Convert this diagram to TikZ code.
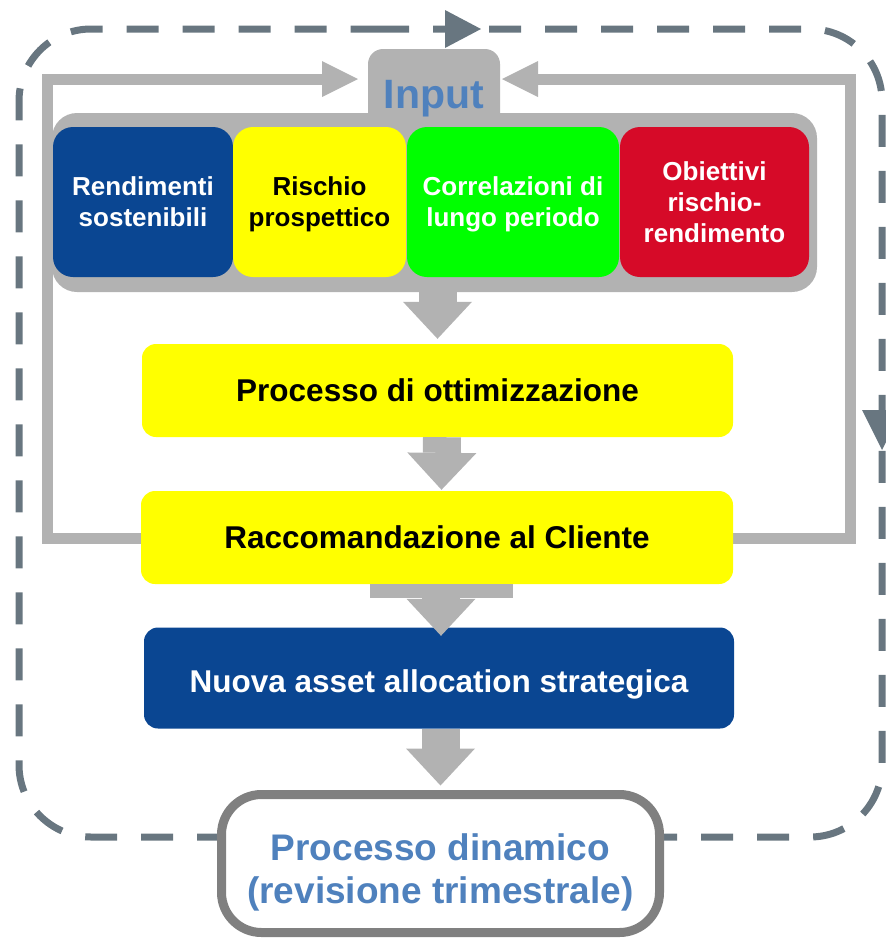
\documentclass[tikz,border=0pt]{standalone}
\usepackage{fontspec}
\setmainfont{Liberation Sans}
\usetikzlibrary{arrows.meta}
\definecolor{dashc}{RGB}{104,118,128}
\definecolor{loopc}{RGB}{178,178,178}
\definecolor{inblue}{RGB}{79,129,189}
\definecolor{dkblue}{RGB}{10,70,146}
\definecolor{ylw}{RGB}{255,255,0}
\definecolor{grn}{RGB}{0,255,0}
\definecolor{rd}{RGB}{214,10,40}
\definecolor{brd}{RGB}{128,128,128}
\begin{document}
\begin{tikzpicture}[x=1pt,y=-1pt,
  dashframe/.style={draw=dashc,line width=7pt,dash pattern=on 32pt off 24pt,rounded corners=72pt},
  dashtip/.style={fill=dashc},
  loopline/.style={draw=loopc,line width=11pt,line join=miter,-{Triangle[length=36pt 0 0,width=36pt 0 0,line width=0pt 0 0]}},
  blockarrow/.style={draw=loopc,line width=38pt,-{Triangle[length=37pt 0 0,width=69pt 0 0,line width=0pt 0 0]}},
  inbox/.style={rounded corners=20pt,minimum height=150pt,inner sep=0pt,align=center,text depth=0pt,font=\fontsize{26}{31}\selectfont\bfseries},
  mainbox/.style={rounded corners=14pt,inner sep=0pt,text depth=0pt,font=\fontsize{31.5}{38}\selectfont\bfseries},
]
\useasboundingbox (0,0) rectangle (886,938);
\clip (0,0) rectangle (886,938);

% dashed cycle frame
\draw[dashframe] (305,29) -- (882,29) -- (882,837) -- (19,837) -- (19,29) -- cycle;
\fill[dashtip] (445,10) -- (481,29) -- (445,48) -- cycle;
\fill[dashtip] (862,410) -- (902,410) -- (882,450) -- cycle;

% input tab and container
\node[fill=loopc,rounded corners=15pt,minimum width=132pt,minimum height=82pt,inner sep=0pt] (intab) at (434,90) {};
\node[fill=loopc,rounded corners=25pt,minimum width=765pt,minimum height=179pt,inner sep=0pt] (cont) at (434.5,202.5) {};
\node[anchor=base,text=inblue,inner sep=0pt,font=\fontsize{41}{48}\selectfont\bfseries] (intxt) at (434,108) {Input};
\coordinate (inL) at (358,79);
\coordinate (inR) at (502,79);

% input boxes
\node[inbox,fill=dkblue,text=white,minimum width=180pt] (rend) at (143,202) {Rendimenti\\sostenibili};
\node[inbox,fill=ylw,text=black,minimum width=173pt] (risc) at (319.5,202) {Rischio\\prospettico};
\node[inbox,fill=grn,text=white,minimum width=212pt] (corr) at (513,202) {Correlazioni di\\lungo periodo};
\node[inbox,fill=rd,text=white,minimum width=189pt] (obie) at (714.5,202) {Obiettivi\\rischio-\\rendimento};

% feedback loops
\coordinate (racL) at (141,538);
\coordinate (racR) at (733,538);
\draw[loopline] (racL) -| (47,79) -- (inL);
\draw[loopline] (racR) -| (850,79) -- (inR);

% main boxes
\node[mainbox,fill=ylw,text=black,minimum width=591pt,minimum height=93pt] (proc) at (437.5,390.5) {Processo di ottimizzazione};
\node[mainbox,fill=ylw,text=black,minimum width=592pt,minimum height=93pt] (rac) at (437,537.5) {Raccomandazione al Cliente};
\node[mainbox,fill=dkblue,text=white,minimum width=590pt,minimum height=101pt,text height=29pt] (nuova) at (439,678) {Nuova asset allocation strategica};

% block arrows
\draw[blockarrow] (proc.north |- cont.south) -- ([yshift=5pt]proc.north);
\draw[blockarrow] ([xshift=4.5pt]proc.south) -- ([xshift=4.5pt,yshift=1pt]rac.north);
\fill[loopc] (370,584) rectangle (513,598);
\draw[blockarrow] ([xshift=4pt,yshift=-14pt]rac.south) -- ([xshift=4pt,yshift=-8.5pt]rac.south |- nuova.north);
\node[draw=brd,line width=9pt,fill=white,rounded corners=40pt,minimum width=438pt,minimum height=138pt,inner sep=0pt] (dyn) at (440.5,863.5) {};
\draw[blockarrow] (dyn.north |- nuova.south) -- ([yshift=4.5pt]dyn.north);
\node[align=center,text=inblue,inner sep=0pt,font=\fontsize{37}{43}\selectfont\bfseries] (dyntxt) at (440.5,872) {Processo dinamico\\(revisione trimestrale)};
\end{tikzpicture}
\end{document}
